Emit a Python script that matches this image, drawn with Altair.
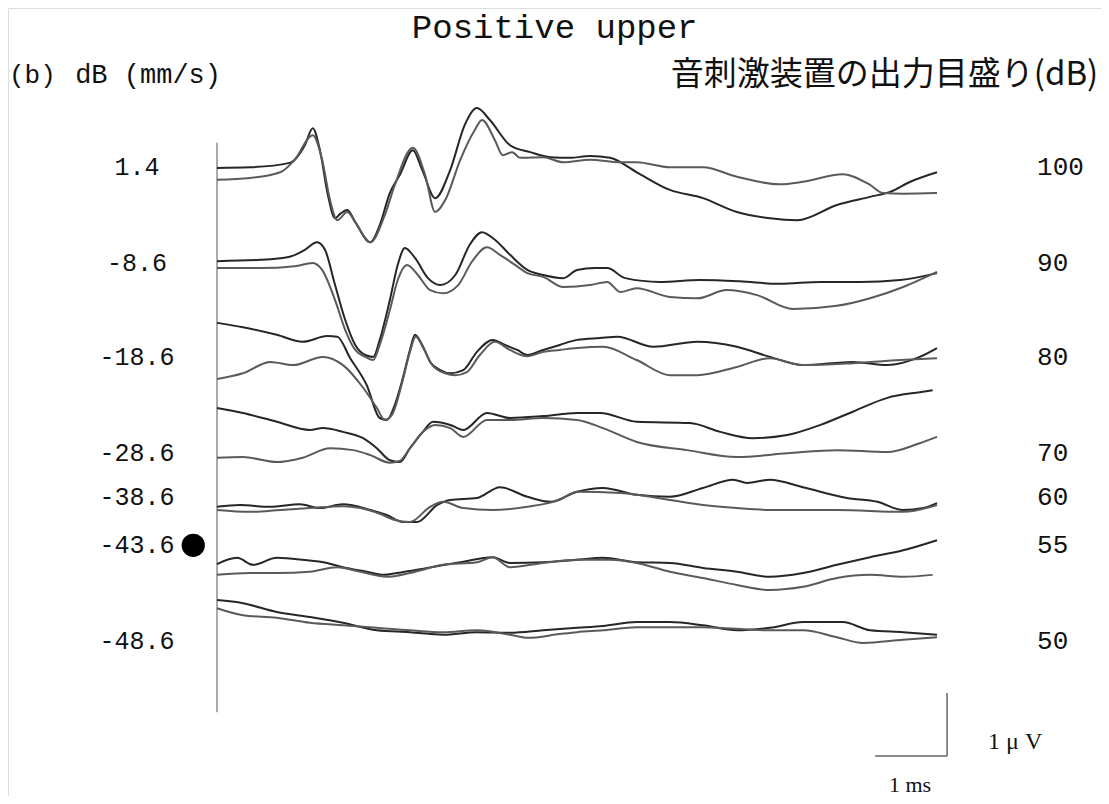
import altair as alt
import pandas as pd

# ---- trace data: time (ms) and amplitude (uV, stacked display offsets) ----
t_100a = [0.00,0.46,1.01,1.22,1.33,1.43,1.54,1.64,1.71,1.81,1.92,2.13,2.26,2.40,2.54,2.72,2.85,3.03,3.24,3.44,3.61,3.79,4.07,4.35,4.63,4.90,5.18,5.46,5.83,6.29,6.75,7.22,7.68,8.06,8.61,9.07,9.35,9.63,10.00]
v_100a = [9.97,9.98,10.05,10.33,10.60,10.25,9.54,9.17,9.24,9.30,9.11,8.79,9.06,9.57,9.86,10.25,9.94,9.49,9.94,10.65,10.92,10.73,10.33,10.22,10.14,10.13,10.16,10.13,9.90,9.62,9.49,9.27,9.17,9.14,9.38,9.51,9.59,9.75,9.90]
t_100b = [0.00,0.46,0.88,1.08,1.33,1.46,1.57,1.67,1.81,1.92,2.13,2.33,2.47,2.72,2.89,3.03,3.17,3.38,3.58,3.68,3.86,3.97,4.10,4.21,4.53,4.81,5.18,5.60,5.83,6.29,6.75,7.22,7.81,8.14,8.69,9.07,9.25,9.53,10.00]
v_100b = [9.78,9.81,9.90,10.10,10.49,10.10,9.46,9.14,9.27,9.11,8.79,9.22,9.70,10.29,9.86,9.27,9.46,10.10,10.57,10.73,10.41,10.17,10.22,10.13,10.14,10.06,10.10,10.06,10.06,9.98,9.98,9.83,9.71,9.75,9.87,9.70,9.57,9.56,9.57]

t_90a = [0.00,0.60,1.01,1.22,1.39,1.50,1.64,1.78,1.92,2.06,2.17,2.26,2.40,2.51,2.61,2.75,2.93,3.10,3.31,3.51,3.68,3.86,4.07,4.31,4.53,4.81,5.00,5.25,5.42,5.67,6.15,6.71,7.26,7.82,8.38,8.93,9.49,10.00]
v_90a = [8.49,8.51,8.56,8.67,8.79,8.67,8.11,7.56,7.16,7.00,6.97,7.24,7.87,8.43,8.70,8.54,8.22,8.11,8.27,8.75,8.95,8.83,8.59,8.35,8.27,8.22,8.35,8.38,8.38,8.22,8.16,8.19,8.17,8.13,8.16,8.16,8.19,8.30]
t_90b = [0.00,0.60,1.08,1.33,1.46,1.64,1.78,1.92,2.06,2.17,2.26,2.40,2.51,2.64,2.79,2.96,3.14,3.35,3.54,3.75,3.93,4.14,4.31,4.53,4.81,5.18,5.42,5.60,5.83,6.29,6.67,7.08,7.50,8.00,8.61,9.07,9.53,10.00]
v_90b = [8.38,8.38,8.41,8.46,8.35,7.87,7.40,7.08,6.97,6.92,7.16,7.71,8.19,8.43,8.27,8.03,7.98,8.11,8.48,8.71,8.59,8.43,8.30,8.24,8.08,8.11,8.16,8.00,8.06,7.92,7.90,8.03,7.95,7.73,7.78,7.90,8.08,8.32]

t_80a = [0.00,0.36,0.83,1.19,1.53,1.67,1.85,2.08,2.26,2.36,2.47,2.58,2.68,2.75,2.85,2.96,3.10,3.24,3.42,3.61,3.83,4.00,4.17,4.31,4.53,4.76,5.00,5.32,5.56,6.06,6.67,7.22,7.68,8.14,8.83,9.31,9.76,10.00]
v_80a = [7.51,7.44,7.32,7.21,7.30,7.29,6.95,6.52,6.00,5.97,6.21,6.63,7.08,7.32,7.16,6.89,6.76,6.71,6.76,7.05,7.24,7.16,7.08,7.00,7.08,7.16,7.24,7.27,7.29,7.13,7.21,7.13,6.97,6.84,6.89,6.84,6.97,7.11]
t_80b = [0.00,0.36,0.74,1.06,1.47,1.75,2.03,2.22,2.33,2.43,2.58,2.68,2.76,2.88,2.99,3.17,3.31,3.47,3.65,3.86,4.07,4.31,4.53,4.76,5.00,5.36,5.83,6.29,6.67,7.22,7.68,8.14,8.83,9.49,10.00]
v_80b = [6.62,6.71,6.89,6.84,6.97,6.84,6.48,6.16,5.97,6.05,6.60,7.05,7.29,7.08,6.84,6.71,6.68,6.73,7.00,7.21,7.08,6.98,7.05,7.08,7.11,7.13,6.92,6.68,6.68,6.81,6.95,6.84,6.87,6.92,6.95]

t_70a = [0.00,0.36,0.83,1.29,1.47,1.75,2.03,2.22,2.40,2.54,2.68,2.86,3.00,3.24,3.42,3.75,4.07,4.53,5.00,5.32,5.83,6.57,6.99,7.44,7.92,8.38,8.83,9.31,9.76,9.94]
v_70a = [6.16,6.08,5.94,5.81,5.84,5.78,5.68,5.52,5.33,5.30,5.52,5.78,5.94,5.89,5.81,6.08,6.00,6.03,6.08,6.08,5.94,5.92,5.78,5.68,5.73,5.89,6.10,6.32,6.41,6.44]
t_70b = [0.00,0.36,0.83,1.19,1.57,1.89,2.13,2.40,2.54,2.68,2.86,3.03,3.24,3.42,3.75,4.07,4.53,5.00,5.36,5.83,6.53,7.22,7.92,8.61,9.31,9.76,10.00]
v_70b = [5.37,5.38,5.30,5.37,5.52,5.49,5.41,5.29,5.32,5.52,5.78,5.89,5.84,5.70,5.97,5.97,6.00,5.97,5.84,5.62,5.49,5.38,5.44,5.49,5.46,5.60,5.70]

t_60a = [0.00,0.32,0.74,1.15,1.43,1.75,2.13,2.36,2.58,2.78,3.06,3.24,3.61,3.93,4.31,4.63,5.00,5.36,5.83,6.29,6.75,7.17,7.36,7.68,8.14,8.75,9.17,9.53,9.81,10.00]
v_60a = [4.59,4.62,4.59,4.63,4.57,4.63,4.54,4.46,4.35,4.35,4.62,4.70,4.73,4.90,4.75,4.67,4.83,4.89,4.78,4.75,4.89,5.02,4.97,5.02,4.90,4.73,4.67,4.54,4.57,4.65]
t_60b = [0.00,0.46,0.88,1.29,1.75,1.99,2.26,2.47,2.68,2.96,3.14,3.42,3.83,4.31,4.76,5.00,5.60,6.29,6.75,7.22,7.68,8.61,9.53,10.00]
v_60b = [4.54,4.51,4.54,4.57,4.60,4.57,4.48,4.38,4.35,4.59,4.67,4.57,4.54,4.59,4.70,4.83,4.81,4.70,4.62,4.57,4.54,4.54,4.51,4.62]

t_55a = [0.00,0.28,0.50,0.83,1.19,1.53,1.75,2.08,2.31,2.50,2.92,3.38,3.83,4.07,4.53,5.00,5.36,5.83,6.29,6.75,7.22,7.68,8.14,8.61,9.07,9.53,10.00]
v_55a = [3.68,3.78,3.67,3.78,3.75,3.70,3.63,3.56,3.51,3.54,3.62,3.71,3.79,3.70,3.71,3.75,3.78,3.71,3.70,3.62,3.56,3.48,3.54,3.67,3.79,3.90,4.06]
t_55b = [0.00,0.46,0.83,1.29,1.67,1.99,2.36,2.68,3.14,3.61,3.83,4.07,4.53,5.00,5.46,5.83,6.29,6.75,7.22,7.68,8.14,8.61,9.07,9.53,9.94]
v_55b = [3.51,3.54,3.54,3.56,3.63,3.56,3.48,3.54,3.67,3.71,3.79,3.63,3.70,3.75,3.75,3.70,3.56,3.46,3.35,3.27,3.32,3.46,3.51,3.48,3.51]

t_50a = [0.00,0.36,0.83,1.29,1.75,2.22,2.68,3.14,3.61,4.07,4.53,5.00,5.36,5.83,6.29,6.75,7.22,7.68,8.14,8.69,9.07,9.53,10.00]
v_50a = [3.11,3.06,2.92,2.84,2.75,2.63,2.60,2.56,2.60,2.59,2.63,2.67,2.70,2.76,2.76,2.71,2.63,2.67,2.76,2.76,2.63,2.60,2.56]
t_50b = [0.00,0.36,0.83,1.29,1.75,2.22,2.68,3.14,3.61,4.07,4.31,4.76,5.00,5.36,5.83,6.75,7.68,8.14,8.61,8.97,9.53,10.00]
v_50b = [2.98,2.87,2.83,2.75,2.71,2.67,2.63,2.60,2.63,2.56,2.51,2.57,2.60,2.63,2.68,2.68,2.63,2.63,2.52,2.43,2.48,2.52]

# ---- labels ----
velocity_labels = ["1.4", "-8.6", "-18.6", "-28.6", "-38.6", "-43.6", "-48.6"]
output_labels = ["100", "90", "80", "70", "60", "55", "50"]
label_levels = [9.98, 8.46, 6.97, 5.44, 4.75, 3.98, 2.46]   # uV display offset of each row
marked_level = 3.98                                         # row marked by the dot (-43.6)

# ---- scale bar (1 ms, 1 uV) ----
bar_t_end = 10.14
bar_v_base = 0.635
bar_ms = 1.0
bar_uv = 1.0
sweep_start = 0.0
axis_v_top = 10.37
axis_v_bottom = 1.33

T_DOMAIN = [-2.9028, 12.2778]
V_DOMAIN = [0.0, 12.508]

traces = [
    ("100a", t_100a, v_100a, "dark"), ("100b", t_100b, v_100b, "light"),
    ("90a", t_90a, v_90a, "dark"), ("90b", t_90b, v_90b, "light"),
    ("80a", t_80a, v_80a, "dark"), ("80b", t_80b, v_80b, "light"),
    ("70a", t_70a, v_70a, "dark"), ("70b", t_70b, v_70b, "light"),
    ("60a", t_60a, v_60a, "dark"), ("60b", t_60b, v_60b, "light"),
    ("55a", t_55a, v_55a, "dark"), ("55b", t_55b, v_55b, "light"),
    ("50a", t_50a, v_50a, "dark"), ("50b", t_50b, v_50b, "light"),
]
rows = []
for name, ts, vs, shade in traces:
    for i, (t, v) in enumerate(zip(ts, vs)):
        rows.append({"trace": name, "i": i, "t": t, "v": v, "shade": shade})
df = pd.DataFrame(rows)

X = alt.X("t:Q", scale=alt.Scale(domain=T_DOMAIN, nice=False, zero=False), axis=None)
Y = alt.Y("v:Q", scale=alt.Scale(domain=V_DOMAIN, nice=False, zero=False), axis=None)

lines = alt.Chart(df).mark_line(strokeWidth=2, interpolate="monotone").encode(
    x=X, y=Y, detail="trace:N", order="i:Q",
    color=alt.Color("shade:N", scale=alt.Scale(domain=["dark", "light"], range=["#262626", "#5a5a5a"]), legend=None),
)

axis_df = pd.DataFrame({"t": [sweep_start], "v": [axis_v_top], "v2": [axis_v_bottom]})
axis_line = alt.Chart(axis_df).mark_rule(color="#555555", strokeWidth=1).encode(
    x=X, y=Y, y2="v2:Q")

hbar_df = pd.DataFrame({"t": [bar_t_end - bar_ms], "t2": [bar_t_end], "v": [bar_v_base]})
hbar = alt.Chart(hbar_df).mark_rule(color="#666666", strokeWidth=1.5).encode(x=X, x2="t2:Q", y=Y)
vbar_df = pd.DataFrame({"t": [bar_t_end], "v": [bar_v_base], "v2": [bar_v_base + bar_uv]})
vbar = alt.Chart(vbar_df).mark_rule(color="#666666", strokeWidth=1.5).encode(x=X, y=Y, y2="v2:Q")

left_df = pd.DataFrame({"t": [-1.11] * 7, "v": label_levels, "label": velocity_labels})
left_text = alt.Chart(left_df).mark_text(font="Liberation Mono", fontSize=25, align="center",
                                         baseline="middle", color="#111111").encode(x=X, y=Y, text="label:N")
right_df = pd.DataFrame({"t": [11.39] * 7, "v": label_levels, "label": output_labels})
right_text = alt.Chart(right_df).mark_text(font="Liberation Mono", fontSize=26, align="left",
                                           baseline="middle", color="#111111").encode(x=X, y=Y, text="label:N")

dot_df = pd.DataFrame({"t": [-0.33], "v": [marked_level]})
dot = alt.Chart(dot_df).mark_point(filled=True, size=540, color="black", opacity=1, shape="circle").encode(x=X, y=Y)

def label(t, v, txt, font, size, align):
    d = pd.DataFrame({"t": [t], "v": [v], "label": [txt]})
    return alt.Chart(d).mark_text(font=font, fontSize=size, align=align, baseline="middle",
                                  color="#111111").encode(x=X, y=Y, text="label:N")

title = label(4.69, 12.19, "Positive upper", "Liberation Mono", 34, "center")
panel = label(-2.89, 11.44, "(b)", "Liberation Mono", 26, "left")
unit = label(-1.97, 11.44, "dB (mm/s)", "Liberation Mono", 27, "left")
jp = label(12.24, 11.44, "音刺激装置の出力目盛り(dB)", "Noto Sans CJK JP", 33, "right")
uv_lab = label(10.71, 0.86, "1 μ V", "Liberation Serif", 24, "left")
ms_lab = label(9.625, 0.17, "1  ms", "Liberation Serif", 22, "center")

chart = alt.layer(
    axis_line, lines, hbar, vbar, left_text, right_text, dot,
    title, panel, unit, jp, uv_lab, ms_lab
).properties(
    width=1093, height=788,
    autosize=alt.AutoSizeParams(type="none"),
    padding=0,
).configure_view(stroke=None).configure(background="white")

chart.save("out.html", embed_options={"renderer": "svg", "actions": False})
